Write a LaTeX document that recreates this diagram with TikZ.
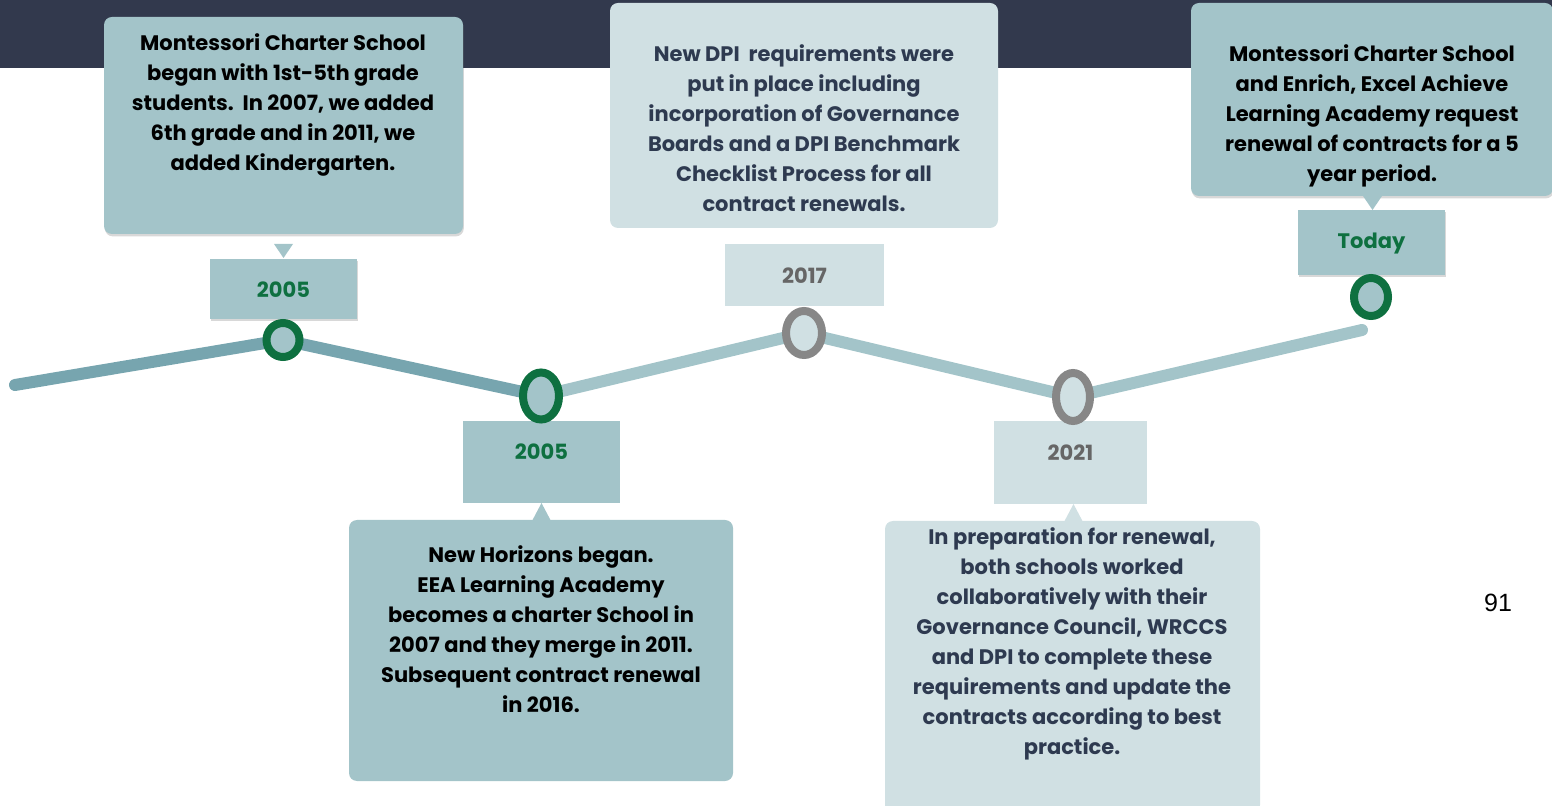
\documentclass[tikz,border=0pt]{standalone}
\usepackage{fontspec}
\setmainfont{Poppins}
\newfontfamily\arialfont{Liberation Sans}
\usetikzlibrary{shapes.geometric,shadows}
\definecolor{band}{RGB}{50,57,77}
\definecolor{teal}{RGB}{163,196,201}
\definecolor{lite}{RGB}{208,224,227}
\definecolor{dteal}{RGB}{119,165,175}
\definecolor{mgreen}{RGB}{14,112,64}
\definecolor{ring}{RGB}{135,135,135}
\definecolor{gtext}{RGB}{102,102,102}
\definecolor{navy}{RGB}{46,58,80}
\tikzset{
  shd/.style={drop shadow={opacity=0.22,shadow xshift=0.4pt,shadow yshift=-1.2pt,fill=black!70}},
  bigbox/.style={rectangle,rounded corners=4pt,inner sep=0pt},
  yearbox/.style={rectangle,inner sep=0pt},
  txt/.style={align=center,font=\fontsize{10.5}{15}\selectfont\bfseries,inner sep=0pt},
  yeartxt/.style={font=\fontsize{10.5}{13}\selectfont\bfseries,inner sep=0pt},
  dot/.style={ellipse,line width=4pt,inner sep=0pt},
  tl/.style={line width=6pt,line cap=round},
  ptr/.style={inner sep=0pt}
}
\begin{document}
\begin{tikzpicture}[x=0.5pt,y=-0.5pt]
\useasboundingbox (0,0) rectangle (1552,806);
\fill[band] (0,0) rectangle (1552,68);
% timeline points
\coordinate (s) at (15,385);
\coordinate (p1) at (283,340);
\coordinate (p2) at (541,396);
\coordinate (p3) at (804,333);
\coordinate (p4) at (1073,397);
\coordinate (e) at (1362,330);
\coordinate (p5) at (1371,297);
\draw[tl,dteal] (s) -- (p1) -- (p2);
\draw[tl,teal] (p2) -- (p3) -- (p4) -- (e);
% top-left event
\node[bigbox,fill=teal,shd,minimum width=179.5pt,minimum height=108.5pt] (b1) at (283.5,125.5) {};
\node[txt] (t1) at (283,105) {Montessori Charter School\\began with 1st-5th grade\\students.\ \ In 2007, we added\\6th grade and in 2011, we\\added Kindergarten.};
\node[yearbox,fill=teal,shd,minimum width=73.5pt,minimum height=30pt] (y1) at (283.5,289) {};
\node[yeartxt,mgreen] at (283.5,290) {2005};
\fill[teal] (274,244) -- (293,244) -- (283.5,258) -- cycle;
% top-middle event
\node[bigbox,fill=lite,minimum width=194pt,minimum height=112.5pt] (b3) at (804,115.5) {};
\node[txt,navy] (t3) at (804,128.5) {New DPI\ \ requirements were\\put in place including\\incorporation of Governance\\Boards and a DPI Benchmark\\Checklist Process for all\\contract renewals.};
\node[yearbox,fill=lite,minimum width=79.5pt,minimum height=31pt] (y3) at (804.5,275) {};
\node[yeartxt,gtext] at (804.5,276) {2017};
% top-right event
\node[bigbox,fill=teal,shd,minimum width=181pt,minimum height=96.5pt] (b5) at (1372,99.5) {};
\node[txt] (t5) at (1372,116) {Montessori Charter School\\and Enrich, Excel Achieve\\Learning Academy request\\renewal of contracts for a 5\\year period.};
\fill[teal] (1363,196) -- (1382,196) -- (1372.5,210) -- cycle;
\node[yearbox,fill=teal,shd,minimum width=73.5pt,minimum height=32.5pt] (y5) at (1371.5,242.5) {};
\node[yeartxt,mgreen] at (1371.5,244) {Today};
% bottom-left event
\node[yearbox,fill=teal,minimum width=78.5pt,minimum height=41pt] (y2) at (541.5,462) {};
\node[yeartxt,mgreen] at (541.5,452) {2005};
\fill[teal] (532,521) -- (551,521) -- (541.5,503) -- cycle;
\node[bigbox,fill=teal,minimum width=192pt,minimum height=130.5pt] (b2) at (541,650.5) {};
\node[txt] (t2) at (541,629) {New Horizons began.\\EEA Learning Academy\\becomes a charter School in\\2007 and they merge in 2011.\\Subsequent contract renewal\\in 2016.};
% bottom-right event
\node[yearbox,fill=lite,minimum width=76.5pt,minimum height=41.5pt] (y4) at (1070.5,462.5) {};
\node[yeartxt,gtext] at (1070.5,453) {2021};
\fill[lite] (1064,522) -- (1083,522) -- (1073.5,504) -- cycle;
\node[bigbox,fill=lite,minimum width=187.5pt,minimum height=146pt] (b4) at (1072.5,667) {};
\node[txt,navy] (t4) at (1072,644) {In preparation for renewal,\\both schools worked\\collaboratively with their\\Governance Council, WRCCS\\and DPI to complete these\\requirements and update the\\contracts according to best\\practice.};
% circles
\node[dot,draw=mgreen,fill=teal,shd,minimum width=16.5pt,minimum height=17pt] (c1) at (p1) {};
\node[dot,draw=mgreen,fill=teal,minimum width=18pt,minimum height=23.5pt] (c2) at (p2) {};
\node[dot,draw=ring,fill=lite,minimum width=18pt,minimum height=22pt] (c3) at (p3) {};
\node[dot,draw=ring,fill=lite,minimum width=17pt,minimum height=24pt] (c4) at (p4) {};
\node[dot,draw=mgreen,fill=teal,shd,minimum width=17pt,minimum height=19pt] (c5) at (p5) {};
% page number
\node[font=\arialfont\fontsize{12.5}{14}\selectfont,inner sep=0pt] (pn) at (1498,603) {91};
\end{tikzpicture}
\end{document}
